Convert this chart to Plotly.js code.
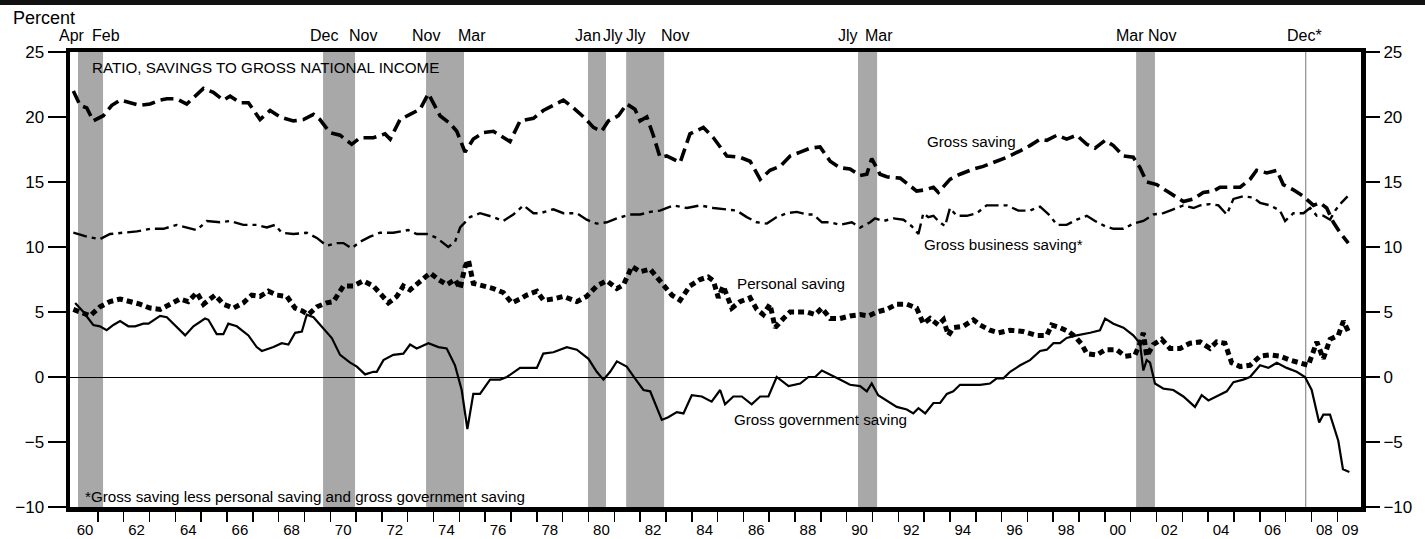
<!DOCTYPE html>
<html>
<head>
<meta charset="utf-8">
<script src="https://cdn.plot.ly/plotly-3.0.1.min.js"></script>
<style>
html,body{margin:0;padding:0;background:#fff;}
#chart{width:1425px;height:539px;}
</style>
</head>
<body>
<div id="chart"></div>
<script>
// ---- Data (ratios of saving to gross national income, percent) ----
const grossSavingDates = [1960.05,1960.31,1960.57,1960.82,1961.21,1961.54,1961.86,1962.25,1962.63,1963.02,1963.41,1963.67,1964.05,1964.44,1964.70,1965.09,1965.47,1965.86,1966.12,1966.51,1966.83,1967.28,1967.67,1968.06,1968.57,1968.96,1969.35,1969.60,1969.99,1970.38,1970.83,1971.15,1971.67,1972.12,1972.32,1972.70,1973.09,1973.48,1973.80,1974.25,1974.64,1974.90,1975.22,1975.54,1975.93,1976.32,1976.96,1977.35,1977.87,1978.25,1978.64,1979.03,1979.42,1979.87,1980.19,1980.51,1980.77,1981.16,1981.48,1981.80,1982.00,1982.26,1982.51,1982.77,1983.03,1983.55,1983.93,1984.45,1984.84,1985.36,1985.87,1986.26,1986.65,1987.03,1987.42,1987.81,1988.20,1988.58,1988.97,1989.36,1989.74,1990.13,1990.52,1990.78,1990.97,1991.29,1991.55,1992.07,1992.46,1992.71,1993.04,1993.36,1993.55,1994.00,1994.39,1994.91,1995.29,1995.68,1996.20,1996.72,1997.10,1997.49,1997.75,1998.14,1998.52,1998.91,1999.30,1999.62,2000.01,2000.33,2000.72,2001.10,2001.36,2001.62,2002.01,2002.40,2002.78,2003.04,2003.43,2003.81,2004.20,2004.46,2004.85,2005.24,2005.62,2005.88,2006.27,2006.66,2006.91,2007.30,2007.69,2008.08,2008.33,2008.59,2008.85,2009.11,2009.43];
const grossSavingValues = [22.0,20.9,20.7,19.7,20.1,20.9,21.3,21.1,20.9,21.0,21.3,21.4,21.4,21.0,21.5,22.2,21.9,21.3,21.6,21.1,21.1,19.8,20.5,20.0,19.7,19.8,20.2,19.8,18.8,18.6,17.9,18.4,18.4,18.7,18.3,19.8,20.2,20.6,21.8,20.1,19.5,18.9,17.3,18.3,18.8,18.9,18.1,19.7,19.9,20.5,20.9,21.3,20.7,19.9,19.2,18.9,19.7,20.1,21.0,20.6,19.7,20.0,18.6,16.9,17.0,16.5,18.7,19.2,18.4,17.0,16.9,16.6,15.2,15.9,16.2,17.0,17.3,17.6,17.7,16.6,16.1,16.0,15.5,15.6,16.8,15.6,15.4,15.3,14.7,14.3,14.4,14.6,14.2,15.2,15.6,16.0,16.2,16.5,16.9,17.4,17.8,18.3,18.2,18.6,18.3,18.6,17.9,17.6,18.2,17.8,17.0,16.9,16.1,15.0,14.8,14.3,13.8,13.5,13.7,14.2,14.3,14.6,14.6,14.6,15.2,15.9,15.7,15.9,14.8,14.4,13.9,13.2,13.4,13.0,11.9,11.1,10.3];

const businessSavingDates = [1960.05,1960.57,1961.08,1961.47,1961.99,1962.51,1963.02,1963.54,1964.05,1964.44,1964.83,1965.22,1965.73,1966.12,1966.63,1967.15,1967.54,1967.86,1968.12,1968.57,1969.09,1969.48,1969.86,1970.25,1970.51,1970.83,1971.15,1971.54,1971.93,1972.44,1973.02,1973.35,1973.74,1974.12,1974.57,1974.83,1975.03,1975.41,1975.80,1976.32,1976.70,1977.09,1977.48,1977.87,1978.13,1978.64,1979.03,1979.55,1979.93,1980.32,1980.71,1981.10,1981.61,1982.00,1982.39,1982.77,1983.29,1983.81,1984.32,1984.84,1985.36,1985.74,1986.13,1986.52,1986.91,1987.29,1987.68,1988.07,1988.45,1988.71,1989.04,1989.36,1989.74,1990.20,1990.52,1990.91,1991.10,1991.42,1991.81,1992.20,1992.52,1992.78,1992.97,1993.16,1993.36,1993.55,1993.81,1994.00,1994.26,1994.65,1995.04,1995.42,1995.81,1996.20,1996.65,1997.10,1997.49,1997.88,1998.14,1998.52,1998.91,1999.30,1999.62,2000.01,2000.33,2000.72,2001.10,2001.49,2001.88,2002.27,2002.65,2003.04,2003.43,2003.69,2004.07,2004.40,2004.72,2004.98,2005.36,2005.75,2006.01,2006.40,2006.78,2006.98,2007.30,2007.69,2007.95,2008.21,2008.46,2008.72,2008.92,2009.11,2009.40];
const businessSavingValues = [11.1,10.8,10.6,11.0,11.1,11.2,11.4,11.4,11.7,11.5,11.3,12.0,11.9,12.0,11.7,11.7,11.5,11.7,11.1,11.0,11.1,10.7,10.1,10.3,10.3,9.9,10.4,10.8,11.1,11.1,11.3,11.0,11.0,10.7,10.0,10.4,11.5,12.3,12.6,12.3,12.0,12.5,13.2,12.6,12.6,12.9,12.6,12.6,12.1,11.8,11.9,12.2,12.5,12.5,12.7,12.8,13.2,13.0,13.2,13.0,12.9,12.8,12.3,11.9,11.8,12.3,12.6,12.7,12.5,12.5,11.9,11.9,11.7,11.9,11.5,11.9,12.2,12.0,12.2,12.1,11.6,11.0,12.6,12.3,12.4,12.0,11.6,13.0,12.4,12.4,12.6,13.2,13.2,13.2,12.8,12.8,13.1,12.4,11.7,11.7,12.1,12.4,12.0,11.6,11.4,11.4,11.8,12.0,12.5,12.6,12.9,13.2,13.0,13.2,13.3,13.2,12.5,13.7,13.9,13.8,13.4,13.2,12.8,12.0,12.6,12.6,13.0,12.4,12.4,12.1,12.8,13.3,13.9];

const personalSavingDates = [1960.05,1960.44,1960.70,1961.08,1961.47,1961.86,1962.25,1962.63,1963.02,1963.41,1963.80,1964.18,1964.50,1964.83,1965.09,1965.54,1965.86,1966.25,1966.63,1966.96,1967.28,1967.60,1967.93,1968.32,1968.64,1968.90,1969.15,1969.48,1969.86,1970.12,1970.51,1970.89,1971.28,1971.67,1971.99,1972.25,1972.58,1972.83,1973.09,1973.48,1973.87,1974.19,1974.51,1974.83,1975.03,1975.22,1975.35,1975.54,1975.93,1976.32,1976.70,1977.03,1977.35,1977.61,1978.00,1978.26,1978.64,1979.03,1979.55,1979.93,1980.32,1980.71,1981.10,1981.36,1981.68,1982.00,1982.39,1982.65,1982.90,1983.23,1983.55,1983.93,1984.32,1984.64,1984.84,1985.03,1985.22,1985.55,1985.87,1986.26,1986.52,1986.77,1987.03,1987.23,1987.55,1987.81,1988.20,1988.45,1988.78,1989.04,1989.36,1989.74,1990.13,1990.52,1990.84,1991.17,1991.55,1991.94,1992.33,1992.71,1992.97,1993.23,1993.55,1993.75,1993.94,1994.13,1994.52,1994.91,1995.17,1995.55,1995.88,1996.33,1996.84,1997.36,1997.75,1997.94,1998.26,1998.59,1998.85,1999.11,1999.30,1999.69,2000.01,2000.46,2000.78,2001.17,2001.36,2001.49,2001.62,2001.88,2002.20,2002.52,2002.91,2003.30,2003.69,2004.07,2004.33,2004.65,2004.91,2005.24,2005.62,2006.01,2006.40,2006.78,2007.17,2007.56,2007.88,2008.21,2008.46,2008.72,2009.04,2009.24,2009.43];
const personalSavingValues = [5.2,4.9,4.7,5.4,5.8,6.0,5.8,5.6,5.3,5.2,5.6,6.0,5.8,6.5,5.6,6.3,5.6,5.3,5.7,6.3,6.2,6.6,6.3,6.2,5.3,5.1,4.8,5.4,5.7,5.8,7.0,7.0,7.4,7.0,6.3,5.7,6.2,7.0,6.7,7.4,8.0,7.5,7.1,7.5,6.8,8.5,9.0,7.2,7.0,6.8,6.5,5.7,6.0,6.3,6.6,5.9,6.0,6.2,5.8,6.2,7.0,7.4,6.8,7.1,8.5,8.1,8.3,7.7,7.1,6.3,5.9,7.0,7.5,7.7,7.4,6.1,7.0,5.3,5.8,6.1,5.2,4.8,5.6,3.8,4.5,5.0,5.0,5.0,4.8,5.3,4.5,4.5,4.7,4.8,4.7,5.0,5.2,5.6,5.6,5.3,4.1,4.5,4.0,4.4,3.2,3.8,3.9,4.4,4.0,3.6,3.4,3.6,3.5,3.2,3.2,4.0,3.8,3.5,3.1,2.5,1.8,1.7,2.1,2.1,1.6,1.7,2.6,3.4,1.6,2.5,2.9,2.2,2.2,2.6,2.7,2.2,2.7,2.6,1.1,0.8,0.9,1.6,1.7,1.6,1.3,1.1,0.9,2.7,1.4,2.9,3.2,4.3,3.5];

const governmentSavingDates = [1960.12,1960.44,1960.82,1961.08,1961.34,1961.60,1961.86,1962.18,1962.44,1962.76,1962.96,1963.41,1963.67,1963.99,1964.38,1964.70,1965.15,1965.28,1965.60,1965.86,1966.05,1966.38,1966.83,1967.15,1967.35,1967.80,1968.12,1968.38,1968.64,1968.90,1969.09,1969.35,1969.67,1970.06,1970.38,1970.77,1971.03,1971.35,1971.67,1971.80,1972.06,1972.44,1972.83,1973.09,1973.35,1973.80,1974.19,1974.51,1974.83,1975.09,1975.31,1975.54,1975.80,1976.19,1976.58,1976.84,1977.35,1977.74,1978.00,1978.25,1978.64,1979.16,1979.55,1980.00,1980.32,1980.58,1980.84,1981.10,1981.48,1981.80,1982.13,1982.39,1982.84,1983.09,1983.42,1983.68,1984.00,1984.39,1984.77,1985.10,1985.29,1985.61,1985.94,1986.32,1986.65,1986.97,1987.29,1987.75,1988.20,1988.52,1988.78,1989.04,1989.36,1989.74,1990.13,1990.52,1990.78,1990.97,1991.22,1991.55,1991.94,1992.33,1992.58,1992.78,1993.04,1993.36,1993.62,1993.88,1994.13,1994.39,1994.91,1995.17,1995.55,1995.81,1996.07,1996.33,1996.72,1997.10,1997.49,1997.75,1998.01,1998.26,1998.52,1998.91,1999.43,1999.81,2000.01,2000.33,2000.72,2001.10,2001.36,2001.49,2001.62,2001.75,2001.94,2002.27,2002.65,2003.04,2003.49,2003.75,2004.01,2004.40,2004.72,2004.98,2005.36,2005.62,2006.01,2006.33,2006.66,2007.04,2007.43,2007.75,2008.01,2008.30,2008.46,2008.72,2009.04,2009.22,2009.47];
const governmentSavingValues = [5.7,5.0,4.0,3.9,3.6,4.0,4.3,3.9,3.9,4.1,4.1,4.7,4.6,4.0,3.2,3.9,4.5,4.4,3.3,3.3,4.1,3.9,3.2,2.3,2.0,2.3,2.6,2.5,3.4,3.5,4.8,4.6,3.9,3.0,1.7,1.1,0.8,0.2,0.4,0.4,1.3,1.7,1.8,2.5,2.2,2.6,2.3,2.2,0.9,-1.0,-4.0,-1.3,-1.3,-0.2,-0.2,0.0,0.7,0.7,0.7,1.8,1.9,2.3,2.1,1.4,0.4,-0.2,0.4,1.2,0.8,-0.1,-1.0,-1.1,-3.3,-3.1,-2.7,-2.8,-1.4,-1.5,-1.9,-1.0,-2.1,-1.5,-1.5,-2.1,-1.5,-1.5,0.0,-0.7,-0.5,0.0,0.0,0.5,0.2,-0.2,-0.6,-0.7,-1.1,-0.5,-1.4,-1.8,-2.3,-2.5,-2.8,-2.4,-2.8,-2.0,-2.0,-1.3,-1.1,-0.6,-0.6,-0.6,-0.5,-0.1,-0.1,0.4,0.9,1.3,2.0,2.1,2.6,2.6,3.0,3.2,3.4,3.6,4.5,4.1,3.8,3.2,2.6,0.5,1.3,1.1,-0.5,-0.9,-1.0,-1.5,-2.3,-1.4,-1.8,-1.4,-1.1,-0.4,-0.2,0.0,0.9,0.7,1.1,0.7,0.4,0.0,-1.0,-3.5,-2.9,-2.9,-4.9,-7.1,-7.3];

// Recessions (shaded) and the December 2007 peak line
const recessionStart = [1960.23, 1969.72, 1973.71, 1979.98, 1981.46, 1990.44, 2001.21];
const recessionEnd   = [1961.20, 1970.96, 1975.18, 1980.68, 1982.93, 1991.18, 2001.94];
const latestPeak = 2007.78;
const recessionLabels = ["Apr","Feb","Dec","Nov","Nov","Mar","Jan","Jly","Jly","Nov","Jly","Mar","Mar","Nov","Dec*"];
const recessionLabelDates = [1959.98,1961.32,1969.74,1971.27,1973.69,1975.49,1979.98,1980.95,1981.84,1983.35,1990.05,1991.25,2000.98,2002.22,2007.72];

// Axis labels
const yearTickLabels = ["60","62","64","66","68","70","72","74","76","78","80","82","84","86","88","90","92","94","96","98","00","02","04","06","08","09"];
const yearTickYears = [1960,1962,1964,1966,1968,1970,1972,1974,1976,1978,1980,1982,1984,1986,1988,1990,1992,1994,1996,1998,2000,2002,2004,2006,2008,2009];
const yearBoundaries = [1961,1962,1963,1964,1965,1966,1967,1968,1969,1970,1971,1972,1973,1974,1975,1976,1977,1978,1979,1980,1981,1982,1983,1984,1985,1986,1987,1988,1989,1990,1991,1992,1993,1994,1995,1996,1997,1998,1999,2000,2001,2002,2003,2004,2005,2006,2007,2008,2009];
const yTickValues = [-10, -5, 0, 5, 10, 15, 20, 25];

// Series labels (text, date, value)
const seriesLabels = [
  {text: "Gross saving", date: 1993.05, value: 18.1},
  {text: "Gross business saving*", date: 1992.93, value: 10.2},
  {text: "Personal saving", date: 1985.68, value: 7.2},
  {text: "Gross government saving", date: 1985.57, value: -3.3}
];

// ---- Build figure ----
const FONT = "'Liberation Sans',Arial,Helvetica,sans-serif";
const LABEL_SIZE = 15.2;

const traces = [
  {x: grossSavingDates, y: grossSavingValues, type: "scatter", mode: "lines",
   line: {color: "#000", width: 3.6, dash: "13px,6px"}, name: "Gross saving"},
  {x: businessSavingDates, y: businessSavingValues, type: "scatter", mode: "lines",
   line: {color: "#000", width: 2.4, dash: "14px,5px,4px,5px"}, name: "Gross business saving*"},
  {x: personalSavingDates, y: personalSavingValues, type: "scatter", mode: "lines",
   line: {color: "#000", width: 5, dash: "6px,4px"}, name: "Personal saving"},
  {x: governmentSavingDates, y: governmentSavingValues, type: "scatter", mode: "lines",
   yaxis: "y2", line: {color: "#000", width: 2.2}, name: "Gross government saving"}
];

const shapes = [];
recessionStart.forEach((s, i) => {
  shapes.push({type: "rect", xref: "x", yref: "paper", x0: s, x1: recessionEnd[i], y0: 0, y1: 1,
    fillcolor: "#a8a8a8", line: {width: 0}, layer: "below"});
});
shapes.push({type: "line", xref: "x", yref: "paper", x0: latestPeak, x1: latestPeak, y0: 0, y1: 1,
  line: {color: "#777", width: 1}, layer: "below"});
// outer top rule of the figure
shapes.push({type: "rect", xref: "paper", yref: "paper", x0: -0.06, x1: 1.06, y0: 1.1033, y1: 1.12,
  fillcolor: "#111", line: {width: 0}});

const annotations = [];
recessionLabels.forEach((t, i) => {
  annotations.push({text: t, xref: "x", yref: "paper", x: recessionLabelDates[i], y: 1.037,
    xanchor: "center", yanchor: "middle", showarrow: false,
    font: {family: FONT, size: 16, color: "#000"}});
});
seriesLabels.forEach(l => {
  annotations.push({text: l.text, xref: "x", yref: "y", x: l.date, y: l.value,
    xanchor: "left", yanchor: "middle", showarrow: false,
    font: {family: FONT, size: LABEL_SIZE, color: "#000"}});
});
annotations.push({text: "RATIO, SAVINGS TO GROSS NATIONAL INCOME", xref: "x", yref: "y",
  x: 1960.70, y: 23.8, xanchor: "left", yanchor: "middle", showarrow: false,
  font: {family: FONT, size: LABEL_SIZE, color: "#000"}});
annotations.push({text: "*Gross saving less personal saving and gross government saving", xref: "x", yref: "y",
  x: 1960.43, y: -9.2, xanchor: "left", yanchor: "middle", showarrow: false,
  font: {family: FONT, size: LABEL_SIZE, color: "#000"}});
annotations.push({text: "Percent", xref: "paper", yref: "paper", x: -0.046, y: 1.075,
  xanchor: "left", yanchor: "middle", showarrow: false,
  font: {family: FONT, size: 18, color: "#000"}});

const yCommon = {
  range: [-10, 25], tickmode: "array", tickvals: yTickValues, ticks: "outside", ticklen: 18, tickwidth: 2,
  tickcolor: "#000", showgrid: false, tickfont: {family: FONT, size: 17, color: "#000"}, fixedrange: true
};

const layout = {
  width: 1425, height: 539,
  margin: {l: 70, r: 64, t: 52, b: 32, pad: 0},
  paper_bgcolor: "#fff", plot_bgcolor: "#fff",
  showlegend: false, hovermode: false,
  xaxis: {
    range: [1959.92, 2009.92], showgrid: false, zeroline: false,
    showline: true, linecolor: "#000", linewidth: 4.5, mirror: true,
    tickmode: "array", tickvals: yearTickYears.map(y => y + 0.5), ticktext: yearTickLabels,
    ticks: "outside", ticklen: 5, tickcolor: "rgba(0,0,0,0)",
    tickfont: {family: FONT, size: 15, color: "#000"},
    minor: {tickmode: "array", tickvals: yearBoundaries,
            ticks: "outside", ticklen: 10, tickwidth: 1.5, tickcolor: "#000", showgrid: false},
    fixedrange: true
  },
  yaxis: Object.assign({}, yCommon, {
    side: "left", showline: true, linecolor: "#000", linewidth: 4.5, mirror: true,
    zeroline: true, zerolinecolor: "#000", zerolinewidth: 1
  }),
  yaxis2: Object.assign({}, yCommon, {
    overlaying: "y", side: "right", matches: "y", showline: false, zeroline: false
  }),
  shapes: shapes,
  annotations: annotations
};

Plotly.newPlot("chart", traces, layout, {staticPlot: true, displayModeBar: false});
</script>
</body>
</html>
